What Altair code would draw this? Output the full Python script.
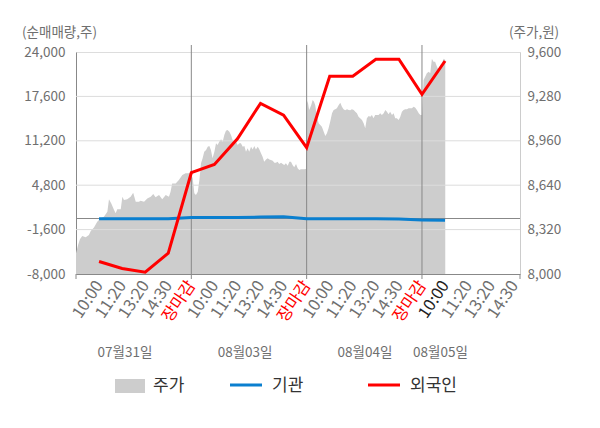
import json
import altair as alt
import pandas as pd

FONT = "Noto Sans CJK KR"

# x-axis tick labels at slots 1..19
tick_labels = ["10:00", "11:20", "13:20", "14:30", "장마감",
               "10:00", "11:20", "13:20", "14:30", "장마감",
               "10:00", "11:20", "13:20", "14:30", "장마감",
               "10:00", "11:20", "13:20", "14:30"]
tick_slots = list(range(1, 20))
day_ends = [5, 10, 15]
edge_ticks = [0, 5, 10, 15, 19.25]

date_labels = ["07월31일", "08월03일", "08월04일", "08월05일"]
date_pos = [2.12, 7.33, 12.53, 15.8]

# investor net buying (left axis, shares)
flow_slots = list(range(1, 17))
foreign = [-6200, -7200, -7750, -5000, 6600, 7800, 11500, 16600, 14900, 10200,
           20500, 20500, 22950, 22950, 17900, 22700]
institution = [-50, -50, -50, -50, 150, 150, 150, 200, 250, -50,
               -50, -50, -50, -80, -200, -250]

# price (right axis, won)
price_x = [0.00, 0.09, 0.17, 0.27, 0.42, 0.56, 0.64, 0.78, 0.92, 1.07, 1.21, 1.36, 1.43, 1.53,
           1.65, 1.72, 1.79, 1.94, 2.01, 2.08, 2.22, 2.37, 2.48, 2.59, 2.73, 2.80, 2.95, 3.09,
           3.24, 3.35, 3.45, 3.60, 3.74, 3.89, 4.03, 4.10, 4.17, 4.32, 4.46, 4.61, 4.75, 4.90,
           4.94, 4.98, 5.06, 5.13, 5.20, 5.28, 5.35, 5.42, 5.49, 5.56, 5.64, 5.71, 5.78, 5.85,
           5.92, 6.00, 6.07, 6.14, 6.21, 6.29, 6.36, 6.43, 6.50, 6.57, 6.65, 6.72, 6.79, 6.86,
           6.94, 7.01, 7.08, 7.15, 7.23, 7.30, 7.37, 7.44, 7.51, 7.59, 7.66, 7.73, 7.80, 7.88,
           7.95, 8.02, 8.09, 8.16, 8.24, 8.31, 8.38, 8.45, 8.53, 8.60, 8.67, 8.74, 8.81, 8.89,
           8.96, 9.03, 9.10, 9.18, 9.25, 9.32, 9.39, 9.46, 9.54, 9.61, 9.68, 9.75, 9.90, 9.97,
           10.00, 10.06, 10.11, 10.20, 10.26, 10.32, 10.37, 10.45, 10.52, 10.59, 10.66, 10.74,
           10.81, 10.88, 10.95, 11.02, 11.10, 11.17, 11.24, 11.31, 11.39, 11.46, 11.53, 11.60,
           11.67, 11.75, 11.82, 11.89, 11.96, 12.04, 12.11, 12.18, 12.25, 12.32, 12.40, 12.47,
           12.54, 12.61, 12.69, 12.76, 12.83, 12.90, 12.97, 13.05, 13.12, 13.19, 13.26, 13.34,
           13.41, 13.48, 13.55, 13.62, 13.70, 13.77, 13.84, 13.91, 13.99, 14.06, 14.13, 14.20,
           14.27, 14.35, 14.42, 14.49, 14.56, 14.64, 14.71, 14.78, 14.86, 14.93, 15.00,
           15.07, 15.14, 15.21, 15.29, 15.36, 15.43, 15.50, 15.57, 15.65, 15.72, 15.79, 15.86,
           15.94, 16.01]
price = [8149, 8209, 8250, 8274, 8264, 8281, 8310, 8336, 8377, 8401, 8413, 8449, 8538, 8509,
         8461, 8437, 8466, 8466, 8557, 8533, 8538, 8557, 8586, 8521, 8521, 8528, 8521, 8545,
         8557, 8577, 8553, 8570, 8538, 8570, 8557, 8593, 8653, 8653, 8677, 8713, 8726, 8726,
         8730, 8726, 8690, 8582, 8569, 8593, 8677, 8798, 8834, 8881, 8894, 8917, 8922, 8894,
         8834, 8881, 8942, 8930, 8953, 8971, 8953, 9002, 9033, 9038, 9026, 9002, 8966, 8942,
         8953, 8930, 8942, 8942, 8917, 8922, 8881, 8906, 8881, 8917, 8898, 8922, 8898, 8917,
         8898, 8870, 8845, 8809, 8826, 8834, 8826, 8821, 8817, 8802, 8802, 8809, 8793, 8802,
         8793, 8786, 8798, 8781, 8809, 8809, 8786, 8769, 8793, 8762, 8750, 8755, 8755, 8757,
         9254, 9230, 9182, 9218, 9254, 9242, 9218, 9134, 9086, 9074, 9062, 9026,
         8995, 9014, 9050, 9098, 9158, 9182, 9187, 9194, 9218, 9235, 9206, 9187,
         9180, 9187, 9182, 9180, 9187, 9182, 9170, 9158, 9134, 9122, 9110, 9086,
         9050, 9122, 9139, 9134, 9146, 9122, 9146, 9146, 9146, 9158, 9146, 9158,
         9182, 9170, 9151, 9170, 9146, 9158, 9122, 9122, 9110, 9134, 9170, 9182,
         9187, 9187, 9194, 9194, 9194, 9206, 9199, 9182, 9158, 9146, 9146,
         9398, 9422, 9446, 9458, 9446, 9552, 9530, 9530, 9494, 9470, 9506, 9518,
         9552, 9542]

left_ticks = [-8000, -1600, 4800, 11200, 17600, 24000]
right_ticks = [8000, 8320, 8640, 8960, 9280, 9600]
grid_vals = [-1600, 4800, 11200, 17600]
price_floor = 8000

legend_names = ["주가", "기관", "외국인"]
GRAY_AREA = "#cdcdcd"
BLUE = "#0a7fcf"
RED = "#ff0000"
LABEL_GRAY = "#6f6f6f"

price_df = pd.DataFrame({"x": price_x, "price": price})
flow_df = pd.DataFrame({"x": flow_slots, "foreign": foreign, "inst": institution})

xscale = alt.Scale(domain=[0, 19.25], nice=False, zero=False)
lscale = alt.Scale(domain=[-8000, 24000], nice=False, zero=False)
rscale = alt.Scale(domain=[8000, 9600], nice=False, zero=False)

label_expr = json.dumps(tick_labels, ensure_ascii=False) + "[datum.value - 1]"
num_expr = "replace(format(datum.value, ',d'), '\u2212', '-')"

x_axis = alt.Axis(values=tick_slots, labelExpr=label_expr, labelAngle=-56,
                  labelAlign="right", labelBaseline="middle", labelFontSize=16.5,
                  labelPadding=8, labelOverlap=False, labelFlush=False, ticks=False,
                  grid=False, domainColor="#888888", title=None, labelFont=FONT,
                  labelColor={"condition": [
                      {"test": "datum.value % 5 === 0", "value": RED},
                      {"test": "datum.value === 16", "value": "#222222"}],
                      "value": LABEL_GRAY})

area = alt.Chart(price_df).mark_area(color=GRAY_AREA).encode(
    x=alt.X("x:Q", scale=xscale, axis=x_axis),
    y=alt.Y("price:Q", scale=rscale,
            axis=alt.Axis(orient="right", values=right_ticks, labelExpr=num_expr,
                          ticks=False, grid=False, domainColor="#cccccc", labelPadding=7,
                          labelFontSize=13.5, labelColor=LABEL_GRAY, labelFont=FONT,
                          title=None)),
    y2=alt.datum(price_floor),
)

hgrid = alt.Chart(pd.DataFrame({"v": grid_vals})).mark_rule(
    color="#dcdcdc", strokeWidth=1).encode(
    y=alt.Y("v:Q", scale=lscale, axis=None))

zero = alt.Chart(pd.DataFrame({"v": [0]})).mark_rule(
    color="#888888", strokeWidth=1).encode(
    y=alt.Y("v:Q", scale=lscale, axis=None))

vlines = alt.Chart(pd.DataFrame({"d": day_ends})).mark_rule(
    color="#888888", strokeWidth=1).encode(
    x=alt.X("d:Q", scale=xscale, axis=None),
    y=alt.value(-7), y2=alt.value(222))

edge = alt.Chart(pd.DataFrame({"d": edge_ticks})).mark_rule(
    color="#888888", strokeWidth=1).encode(
    x=alt.X("d:Q", scale=xscale, axis=None),
    y=alt.value(222), y2=alt.value(227))

blue = alt.Chart(flow_df).mark_line(color=BLUE, strokeWidth=3).encode(
    x=alt.X("x:Q", scale=xscale, axis=None),
    y=alt.Y("inst:Q", scale=lscale,
            axis=alt.Axis(orient="left", values=left_ticks, labelExpr=num_expr,
                          ticks=False, grid=False, domainColor="#888888", labelPadding=11,
                          labelFontSize=13.5, labelColor=LABEL_GRAY, labelFont=FONT,
                          title=None)),
)

red = alt.Chart(flow_df).mark_line(color=RED, strokeWidth=3).encode(
    x=alt.X("x:Q", scale=xscale, axis=None),
    y=alt.Y("foreign:Q", scale=lscale, axis=None),
)

dates = alt.Chart(pd.DataFrame({"p": date_pos, "t": date_labels})).mark_text(
    align="center", baseline="middle", fontSize=13.5, color=LABEL_GRAY, font=FONT).encode(
    x=alt.X("p:Q", scale=xscale, axis=None), y=alt.value(301), text="t:N")

one = pd.DataFrame({"a": [0]})
title_l = alt.Chart(pd.DataFrame({"t": ["(순매매량,주)"]})).mark_text(
    align="left", baseline="middle", fontSize=13.5, color=LABEL_GRAY, font=FONT).encode(
    x=alt.value(-54), y=alt.value(-19), text="t:N")
title_r = alt.Chart(pd.DataFrame({"t": ["(주가,원)"]})).mark_text(
    align="left", baseline="middle", fontSize=13.5, color=LABEL_GRAY, font=FONT).encode(
    x=alt.value(433), y=alt.value(-19), text="t:N")

leg_sq = alt.Chart(one).mark_rect(color=GRAY_AREA).encode(
    x=alt.value(39), x2=alt.value(69), y=alt.value(327), y2=alt.value(341))
leg_blue = alt.Chart(one).mark_rule(color=BLUE, strokeWidth=3).encode(
    x=alt.value(154), x2=alt.value(186), y=alt.value(333))
leg_red = alt.Chart(one).mark_rule(color=RED, strokeWidth=3).encode(
    x=alt.value(292), x2=alt.value(324), y=alt.value(333))
leg_text = alt.Chart(pd.DataFrame({"t": legend_names, "px": [77, 196, 334]})).mark_text(
    align="left", baseline="middle", fontSize=17, color="#333333", font=FONT).encode(
    x=alt.X("px:Q", scale=None, axis=None), y=alt.value(334), text="t:N")

chart = alt.layer(
    area, hgrid, zero, vlines, edge, blue, red, dates, title_l, title_r,
    leg_sq, leg_blue, leg_red, leg_text
).resolve_scale(y="independent").resolve_axis(x="independent").properties(
    width=444, height=222,
    autosize=alt.AutoSizeParams(type="none"),
    padding={"left": 68, "top": 44, "right": 72, "bottom": 146},
).configure_view(strokeWidth=0, fill="#f4f4f4").configure(font=FONT)

chart.save("out.html", embed_options={"renderer": "svg", "actions": False})
